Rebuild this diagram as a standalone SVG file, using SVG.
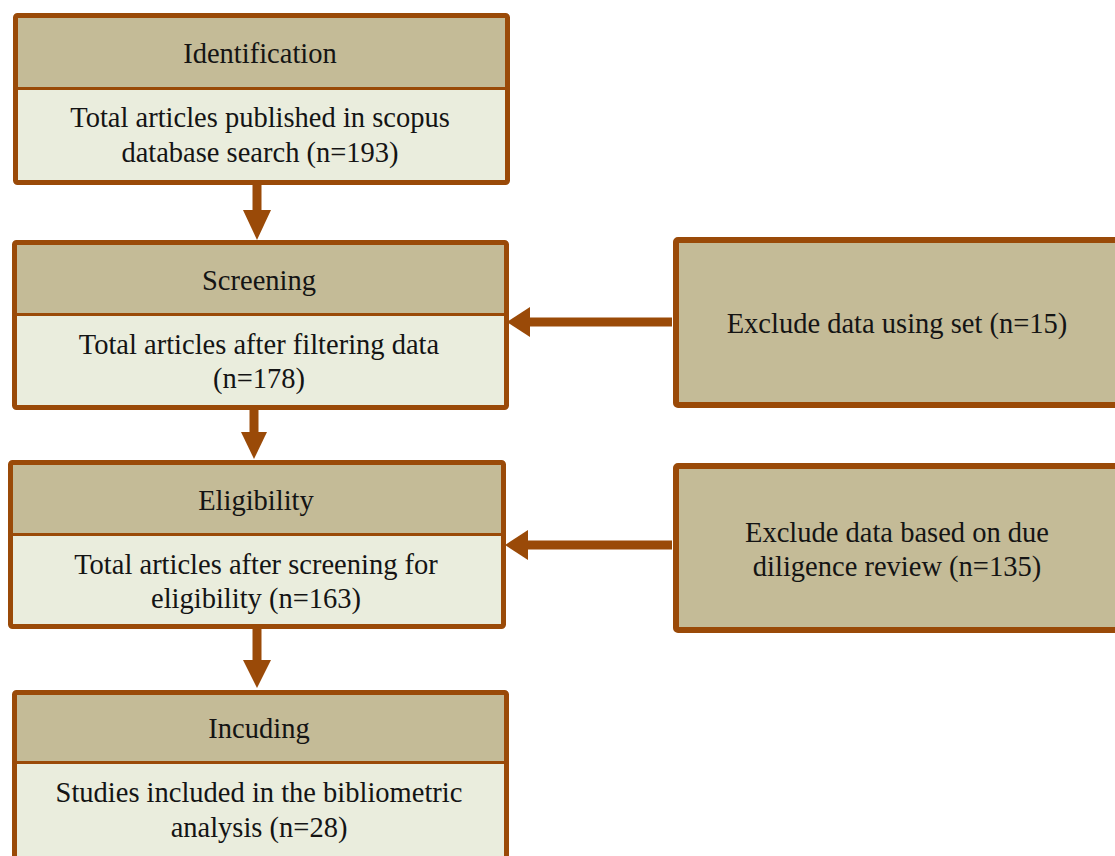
<svg xmlns="http://www.w3.org/2000/svg" width="1115" height="856" viewBox="0 0 1115 856">
<defs>
<style>
.frame{fill:none;stroke:#9A4A08;stroke-width:5;stroke-linejoin:round}
.hd{fill:#C4BB97}
.bd{fill:#EAEDDD}
.div{stroke:#9A4A08;stroke-width:3}
.side{fill:#C4BB97;stroke:#9A4A08;stroke-width:6;stroke-linejoin:round}
text{font-family:"Liberation Serif","Times New Roman",serif;font-size:28.5px;fill:#141414;text-anchor:middle}
.shaft{stroke:#9A4A08;stroke-width:9;fill:none}
.head{fill:#9A4A08}
</style>
</defs>
<rect width="1115" height="856" fill="#ffffff"/>
<g id="connectors">
<line class="shaft" x1="257" y1="185" x2="257" y2="212"/>
<polygon class="head" points="243,210 271,210 257,240"/>
<line class="shaft" x1="254" y1="410" x2="254" y2="434"/>
<polygon class="head" points="241,432 267,432 254,459"/>
<line class="shaft" x1="257" y1="629" x2="257" y2="662"/>
<polygon class="head" points="243,660 271,660 257,688"/>
<line class="shaft" x1="672" y1="322" x2="528" y2="322"/>
<polygon class="head" points="530,307 530,337 507,322"/>
<line class="shaft" x1="672" y1="545" x2="526" y2="545"/>
<polygon class="head" points="528,530 528,560 505,545"/>
</g>
<g id="identification">
<rect class="hd" x="15.5" y="15.5" width="492" height="73"/>
<rect class="bd" x="15.5" y="88.5" width="492" height="94"/>
<line class="div" x1="15.5" y1="88.5" x2="507.5" y2="88.5"/>
<rect class="frame" x="15.5" y="15.5" width="492" height="167" rx="2"/>
<text x="260" y="63">Identification</text>
<text x="260" y="127">Total articles published in scopus</text>
<text x="260" y="162">database search (n=193)</text>
</g>
<g id="screening">
<rect class="hd" x="14.5" y="242.5" width="492" height="72"/>
<rect class="bd" x="14.5" y="314.5" width="492" height="93"/>
<line class="div" x1="14.5" y1="314.5" x2="506.5" y2="314.5"/>
<rect class="frame" x="14.5" y="242.5" width="492" height="165" rx="2"/>
<text x="259" y="290">Screening</text>
<text x="259" y="354">Total articles after filtering data</text>
<text x="259" y="388">(n=178)</text>
</g>
<g id="eligibility">
<rect class="hd" x="10.5" y="462.5" width="493" height="72"/>
<rect class="bd" x="10.5" y="534.5" width="493" height="92"/>
<line class="div" x1="10.5" y1="534.5" x2="503.5" y2="534.5"/>
<rect class="frame" x="10.5" y="462.5" width="493" height="164" rx="2"/>
<text x="256" y="510">Eligibility</text>
<text x="256" y="574">Total articles after screening for</text>
<text x="256" y="608">eligibility (n=163)</text>
</g>
<g id="including">
<rect class="hd" x="14.5" y="692.5" width="492" height="70"/>
<rect class="bd" x="14.5" y="762.5" width="492" height="110"/>
<line class="div" x1="14.5" y1="762.5" x2="506.5" y2="762.5"/>
<rect class="frame" x="14.5" y="692.5" width="492" height="180" rx="2"/>
<text x="259" y="738">Incuding</text>
<text x="259" y="802">Studies included in the bibliometric</text>
<text x="259" y="837">analysis (n=28)</text>
</g>
<g id="exclude-set">
<rect class="side" x="676" y="240" width="460" height="165" rx="2"/>
<text x="897" y="333">Exclude data using set (n=15)</text>
</g>
<g id="exclude-review">
<rect class="side" x="676" y="466" width="460" height="164" rx="2"/>
<text x="897" y="542">Exclude data based on due</text>
<text x="897" y="576">diligence review (n=135)</text>
</g>
</svg>
